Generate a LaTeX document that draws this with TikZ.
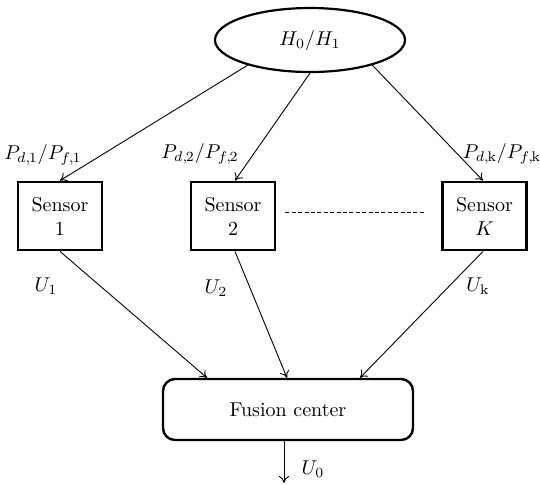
\documentclass[tikz,border=0pt]{standalone}
\usetikzlibrary{shapes.geometric,calc,arrows.meta}
\newcommand{\tc}{,\mkern-1.5mu}
\begin{document}
\begin{tikzpicture}[x=0.5pt,y=-0.5pt,
  hyp/.style={ellipse,draw,line width=1.1pt,minimum width=95pt,minimum height=32pt,inner sep=0pt},
  sensorbox/.style={rectangle,draw,line width=1.4pt,minimum width=42pt,minimum height=34pt,align=center,inner sep=1pt},
  fusionbox/.style={rectangle,rounded corners=6pt,draw,line width=1.2pt,minimum width=125pt,minimum height=30.5pt},
  link/.style={-{To[length=3.5pt,width=5pt]},line width=0.45pt},
  lbl/.style={inner sep=0pt}]
\useasboundingbox (0,0) rectangle (540,484);

% hypothesis, sensors and fusion center
\node[hyp] (h) at (310,40) {$H_0/H_1$};
\node[sensorbox] (s1) at (60,216) {Sensor\\1};
\node[sensorbox] (s2) at (233,216) {Sensor\\2};
\node[sensorbox] (sk) at (484.5,216) {Sensor\\$K$};
\node[fusionbox] (f) at (288,409.5) {Fusion center};
\coordinate (out) at (284,483);

% hypothesis to sensors
\draw[link] (h.202) -- (s1.north);
\draw[link] (h.270) -- ($(s2.north)+(2,0)$);
\draw[link] (h.338) -- ($(sk.north)+(-1.5,0)$);

% further sensors
\draw[dash pattern=on 2pt off 1.2pt,line width=0.45pt] ($(s2.east)+(9,-4)$) -- ($(sk.west)+(-15,-4)$);

% sensor decisions to fusion center
\draw[link] (s1.south) -- ($(f.north)+(-81,0)$);
\draw[link] ($(s2.south)+(2,0)$) -- ($(f.north)+(-1,0)$);
\draw[link] ($(sk.south)+(-1.5,0)$) -- ($(f.north)+(72,0)$);

% global decision
\draw[link] ($(f.south)+(-4,0)$) -- (out);

% labels
\node[lbl] (p1) at (43,155) {$P_{d\tc1}/P_{f\tc1}$};
\node[lbl] (p2) at (200,154) {$P_{d\tc2}/P_{f\tc2}$};
\node[lbl] (pk) at (502,154) {$P_{d\tc\mathrm{k}}/P_{f\tc\mathrm{k}}$};
\node[lbl] (u1) at (46,286) {$U_1$};
\node[lbl] (u2) at (216,288) {$U_2$};
\node[lbl] (uk) at (478,286) {$U_\mathrm{k}$};
\node[lbl] (u0) at (313,469) {$U_0$};
\end{tikzpicture}
\end{document}
